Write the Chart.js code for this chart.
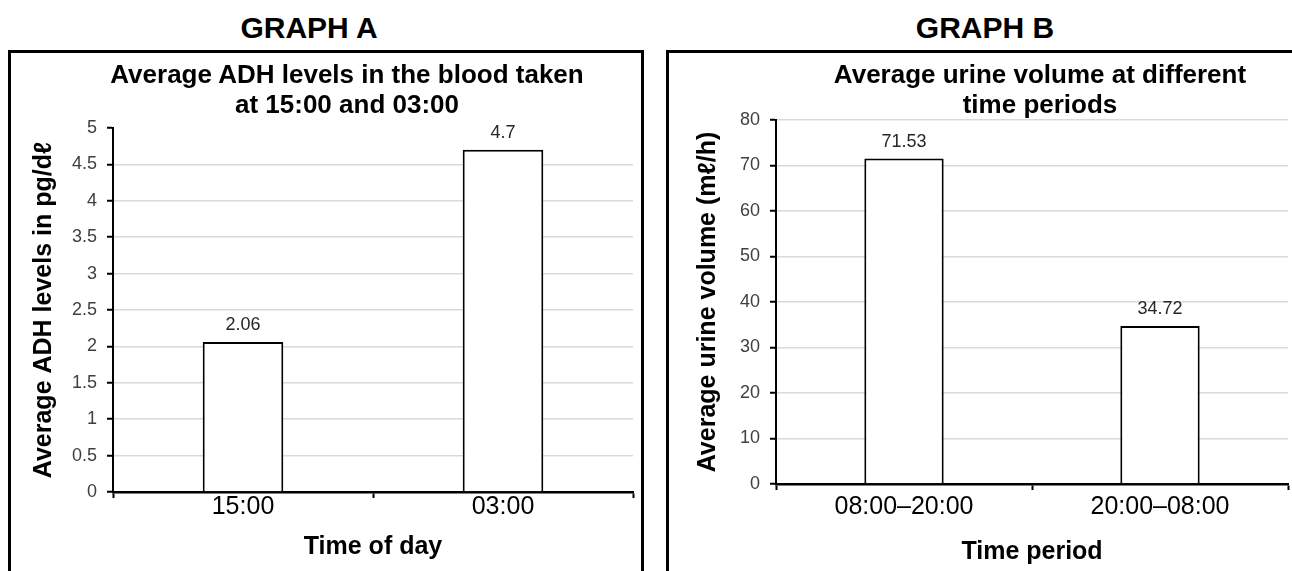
<!DOCTYPE html>
<html>
<head>
<meta charset="utf-8">
<script src="https://cdn.jsdelivr.net/npm/chart.js@4.4.1/dist/chart.umd.min.js"></script>
<style>
  html, body { margin: 0; padding: 0; width: 1292px; height: 571px; overflow: hidden; background: #fff; }
  body { position: relative; font-family: "Liberation Sans", Arial, sans-serif; color: #000; }
  .heading { position: absolute; top: 10px; width: 400px; text-align: center; font-weight: bold; font-size: 30px; line-height: 36px; }
  .box { position: absolute; top: 50px; height: 560px; border: 3px solid #000; box-sizing: border-box; }
  .ctitle { position: absolute; top: 59px; width: 700px; text-align: center; font-weight: bold; font-size: 26px; line-height: 30px; z-index: 2; }
  canvas { position: absolute; z-index: 1; }
</style>
</head>
<body>
<div class="heading" style="left:109px">GRAPH A</div>
<div class="heading" style="left:785px">GRAPH B</div>
<div class="box" style="left:8px; width:636px"></div>
<div class="box" style="left:666px; width:700px"></div>
<div class="ctitle" style="left:-3px">Average ADH levels in the blood taken<br>at 15:00 and 03:00</div>
<div class="ctitle" style="left:690px">Average urine volume at different<br>time periods</div>
<canvas id="chartA" width="629" height="540" style="left:11px; top:55px"></canvas>
<canvas id="chartB" width="622" height="540" style="left:670px; top:55px"></canvas>

<script>
// Graph A data: ADH levels
const timesOfDay = ['15:00', '03:00'];
const adhLevels = [2.06, 4.7];
const adhTicks = [0, 0.5, 1, 1.5, 2, 2.5, 3, 3.5, 4, 4.5, 5];

// Graph B data: urine volume
const timePeriods = ['08:00\u201320:00', '20:00\u201308:00'];
const urineVolumes = [71.53, 34.72];
const urineTicks = [0, 10, 20, 30, 40, 50, 60, 70, 80];

const FONT = '"Liberation Sans", Arial, sans-serif';

// draws the value above each bar
const barValueLabels = {
    id: 'barValueLabels',
    afterDatasetsDraw(chart) {
        const ctx = chart.ctx;
        const meta = chart.getDatasetMeta(0);
        const values = chart.data.datasets[0].data;
        ctx.save();
        ctx.font = '18px ' + FONT;
        ctx.fillStyle = '#262626';
        ctx.textAlign = 'center';
        ctx.textBaseline = 'alphabetic';
        meta.data.forEach((bar, i) => {
            ctx.fillText(String(values[i]), bar.x, bar.y - 12);
        });
        ctx.restore();
    }
};

// Function to build one bar chart
const renderBarChart = (canvasId, labels, data, ticks, cfg) => {
    const ctx = document.getElementById(canvasId).getContext('2d');
    const top = ticks[ticks.length - 1];
    return new Chart(ctx, {
        type: 'bar',
        data: {
            labels: labels,
            datasets: [{
                data: data,
                backgroundColor: '#ffffff',
                borderColor: '#000000',
                borderWidth: 2,
                barPercentage: 0.31,
                categoryPercentage: 1
            }]
        },
        options: {
            responsive: false,
            animation: false,
            devicePixelRatio: 1,
            layout: { padding: { top: cfg.top, right: cfg.right, bottom: 0, left: 0 } },
            plugins: {
                legend: { display: false },
                tooltip: { enabled: false }
            },
            scales: {
                x: {
                    grid: {
                        offset: true,
                        drawOnChartArea: false,
                        tickLength: 6,
                        tickColor: '#000',
                        tickWidth: 2
                    },
                    border: { color: '#000', width: 2.5 },
                    ticks: {
                        color: '#000',
                        font: { family: FONT, size: 25 },
                        padding: cfg.xPad,
                        maxRotation: 0,
                        autoSkip: false
                    },
                    title: {
                        display: true,
                        text: cfg.xTitle,
                        color: '#000',
                        font: { family: FONT, size: 25, weight: 'bold' },
                        padding: { top: 0, bottom: cfg.xTitlePad }
                    },
                    afterFit: s => { s.height = cfg.xHeight; }
                },
                y: {
                    min: 0,
                    max: top,
                    afterBuildTicks: s => { s.ticks = ticks.map(v => ({ value: v })); },
                    grid: {
                        color: c => (cfg.hideTop && c.tick && c.tick.value === top) ? 'rgba(0,0,0,0)' : '#d9d9d9',
                        lineWidth: 1.5,
                        tickLength: 6,
                        tickColor: '#000',
                        tickWidth: 2
                    },
                    border: { color: '#000', width: 2 },
                    ticks: {
                        color: '#404040',
                        font: { family: FONT, size: 18 },
                        padding: 10,
                        callback: v => String(v)
                    },
                    title: {
                        display: true,
                        text: cfg.yTitle,
                        color: '#000',
                        font: { family: FONT, size: 25, weight: 'bold' },
                        padding: { top: cfg.yTitlePad, bottom: 0 }
                    },
                    afterFit: s => { s.width = cfg.yWidth; }
                }
            }
        },
        plugins: [barValueLabels]
    });
};

renderBarChart('chartA', timesOfDay, adhLevels, adhTicks, {
    top: 73, right: 7, xHeight: 103, yWidth: 102,
    xPad: -6, xTitlePad: 33, yTitlePad: 18, hideTop: true,
    xTitle: 'Time of day',
    yTitle: 'Average ADH levels in pg/d\u2113'
});

renderBarChart('chartB', timePeriods, urineVolumes, urineTicks, {
    top: 65, right: 4, xHeight: 111, yWidth: 106,
    xPad: 2, xTitlePad: 28, yTitlePad: 23, hideTop: false,
    xTitle: 'Time period',
    yTitle: 'Average urine volume (m\u2113/h)'
});
</script>
</body>
</html>
